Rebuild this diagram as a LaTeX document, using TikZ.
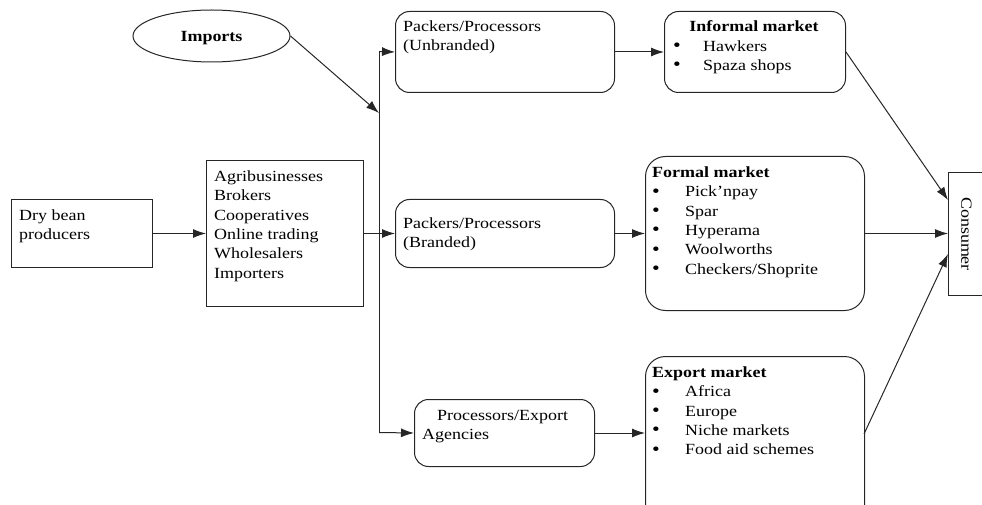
\documentclass[tikz,border=0pt]{standalone}
\usepackage{fontspec}
\setmainfont{Liberation Serif}[FakeStretch=1.16]
\usetikzlibrary{shapes.geometric,arrows.meta}
\begin{document}
\begin{tikzpicture}[x=1pt,y=-1pt,
  line/.style={draw=black!85, line width=1pt},
  box/.style={line, inner sep=0pt, anchor=north west},
  rbox/.style={box, rounded corners=14pt},
  arr/.style={line, -{Latex[length=13pt,width=9pt]}},
  txt/.style={anchor=base west, inner sep=0pt, font=\fontsize{15.5}{18}\selectfont},
  btxt/.style={txt, font=\fontsize{15.5}{18}\selectfont\bfseries},
  bul/.style={anchor=base, inner sep=0pt, font=\fontsize{19}{18}\selectfont}]
\useasboundingbox (0,0) rectangle (982,505);

% boxes
\node[ellipse, line, minimum width=157pt, minimum height=52pt, inner sep=0pt] (imp) at (211.5,36) {};
\node[btxt, anchor=base] (imptxt) at (211.5,42) {Imports};

\node[box, minimum width=141pt, minimum height=68pt] (dry) at (11,199) {};
\node[box, minimum width=157pt, minimum height=146pt] (agri) at (206,160) {};
\node[rbox, minimum width=219pt, minimum height=81pt] (unb) at (395,11) {};
\node[rbox, minimum width=219pt, minimum height=68pt] (brd) at (395,199) {};
\node[rbox, minimum width=180pt, minimum height=67pt] (pexp) at (414,399) {};
\node[rbox, minimum width=181pt, minimum height=81pt] (inf) at (664,11) {};
\node[box, rounded corners=20pt, minimum width=219pt, minimum height=154pt] (frm) at (645,156) {};
\node[box, rounded corners=20pt, minimum width=219pt, minimum height=170pt] (exp) at (645,356) {};
\node[box, minimum width=36pt, minimum height=123pt] (cons) at (948,172) {};
\node[inner sep=0pt, rotate=-90, font=\fontsize{15.5}{18}\selectfont] (constxt) at (cons.center) {Consumer};

% texts
\node[txt] (dry1) at (19,220) {Dry bean};
\node[txt] (dry2) at (19,239.5) {producers};

\foreach \t [count=\i] in {Agribusinesses,Brokers,Cooperatives,Online trading,Wholesalers,Importers}
  \node[txt] (agri\i) at (214,{181.5+19.3*(\i-1)}) {\t};

\node[txt] (unb1) at (403,31.5) {Packers/Processors};
\node[txt] (unb2) at (403,50.5) {(Unbranded)};

\node[txt] (brd1) at (403,228.5) {Packers/Processors};
\node[txt] (brd2) at (403,247.5) {(Branded)};

\node[txt] (pexp1) at (437,420) {Processors/Export};
\node[txt] (pexp2) at (422,439.5) {Agencies};

\node[btxt, anchor=base] (inf0) at (754,32) {Informal market};
\node[bul] (infb1) at (677,52) {\textbullet};
\node[txt] (inf1) at (703,51.5) {Hawkers};
\node[bul] (infb2) at (677,71) {\textbullet};
\node[txt] (inf2) at (703,70.5) {Spaza shops};

\node[btxt] (frm0) at (652,177.5) {Formal market};
\foreach \t [count=\i] in {Pick'npay,Spar,Hyperama,Woolworths,Checkers/Shoprite}{
  \node[bul] (frmb\i) at (656,{178+19.3*\i}) {\textbullet};
  \node[txt] (frm\i) at (685,{177.5+19.3*\i}) {\t};
}

\node[btxt] (exp0) at (652,377.5) {Export market};
\foreach \t [count=\i] in {Africa,Europe,Niche markets,Food aid schemes}{
  \node[bul] (expb\i) at (656,{378+19.3*\i}) {\textbullet};
  \node[txt] (exp\i) at (685,{377.5+19.3*\i}) {\t};
}

% connectors
\coordinate (vtop) at (379,51.5);
\coordinate (vbot) at (379,432.5);
\coordinate (vimp) at (379,113);
\draw[line] (vtop) -- (vbot);
\draw[arr] (vtop) -- (unb.west);
\draw[arr] (vbot) -- (pexp.west);
\draw[arr] (imp.east) -- (vimp);
\draw[arr] (dry.east) -- (agri.west);
\draw[arr] (agri.east) -- (brd.west);
\draw[arr] (unb.east) -- (inf.west);
\draw[arr] (brd.east) -- (frm.west);
\draw[arr] (pexp.east) -- (pexp.east -| exp.west);
\coordinate (cin1) at (948,200);
\coordinate (cin3) at (948,254);
\coordinate (eout) at (864,434);
\draw[arr] (inf.east) -- (cin1);
\draw[arr] (frm.east) -- (frm.east -| cons.west);
\draw[arr] (eout) -- (cin3);
\end{tikzpicture}
\end{document}
